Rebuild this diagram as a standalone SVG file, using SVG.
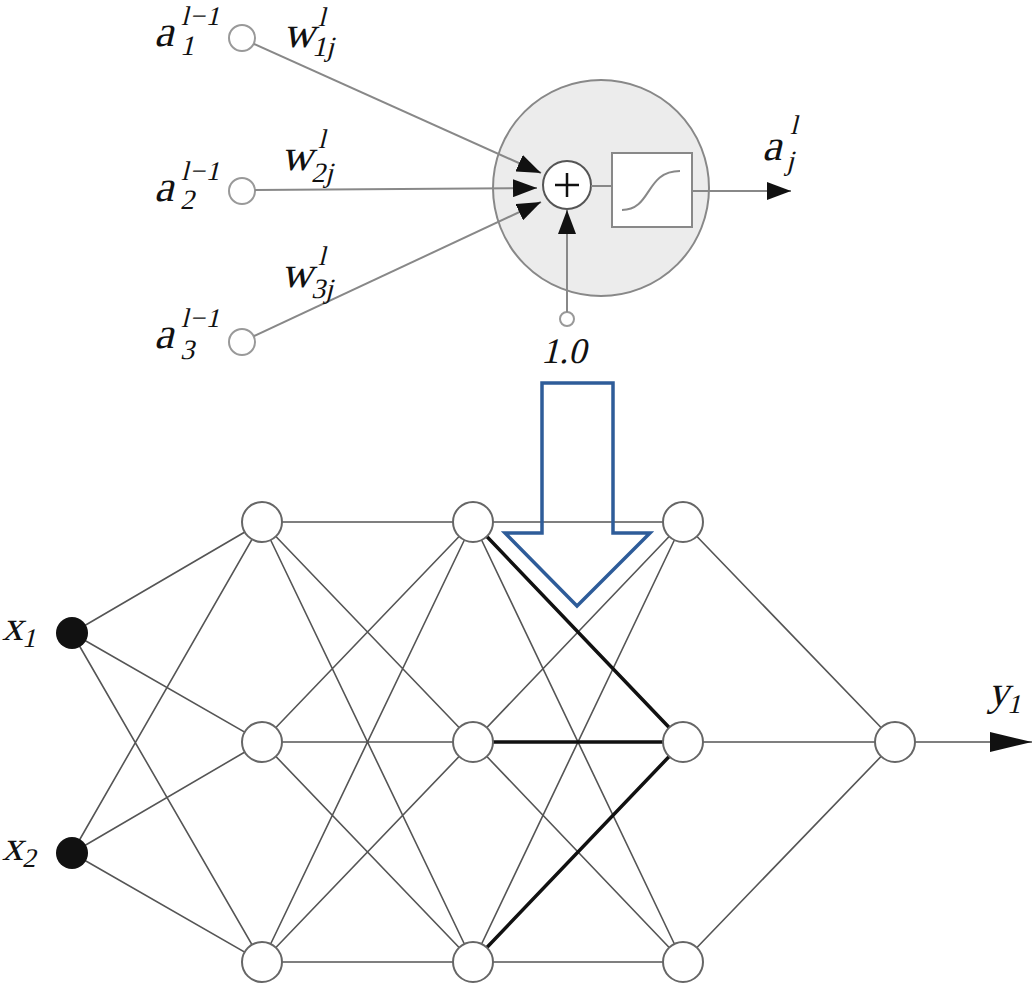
<svg xmlns="http://www.w3.org/2000/svg" width="1033" height="983" viewBox="0 0 1033 983">
<style>
text{font-family:"Liberation Serif","Times New Roman",serif;font-style:normal;fill:#111}
.big{font-size:44px}
.sm{font-size:28px}
.sup{font-size:27px}
.g{stroke:#888;stroke-width:2;fill:none}
.e{stroke:#555;stroke-width:1.6;fill:none}
.b{stroke:#111;stroke-width:3.5;fill:none}
.n{fill:#fff;stroke:#666;stroke-width:2}
</style>
<defs>
<marker id="ah" markerUnits="userSpaceOnUse" markerWidth="26" markerHeight="18" refX="24" refY="9" orient="auto"><path d="M0,0 L24,9 L0,18 Z" fill="#111"/></marker>
<marker id="ah2" markerUnits="userSpaceOnUse" markerWidth="44" markerHeight="24" refX="42" refY="12" orient="auto"><path d="M0,2 L42,12 L0,22 Z" fill="#111"/></marker>
</defs>
<rect width="1033" height="983" fill="#fff"/>

<g id="neuron">
<circle cx="601" cy="188" r="108" fill="#ececec" stroke="#888" stroke-width="2"/>
<circle cx="567" cy="185" r="24" fill="#fff" stroke="#555" stroke-width="2"/>
<path d="M555,185 H579 M567,173 V197" stroke="#111" stroke-width="2.5"/>
<rect x="612" y="153" width="80" height="74" fill="#fff" stroke="#888" stroke-width="2"/>
<path d="M622,210 C652,210 645,171 680,171" stroke="#888" stroke-width="2" fill="none"/>
</g>

<g id="inputs-top">
<circle cx="242" cy="38" r="13" fill="#fff" stroke="#999" stroke-width="2"/>
<circle cx="242" cy="191" r="13" fill="#fff" stroke="#999" stroke-width="2"/>
<circle cx="242" cy="342" r="13" fill="#fff" stroke="#999" stroke-width="2"/>
<circle cx="567" cy="319" r="7" fill="#fff" stroke="#999" stroke-width="2"/>
</g>

<g id="top-connectors">
<line class="g" x1="254" y1="44" x2="541" y2="173" marker-end="url(#ah)"/>
<line class="g" x1="255" y1="190" x2="537" y2="188" marker-end="url(#ah)"/>
<line class="g" x1="254" y1="336" x2="541" y2="202" marker-end="url(#ah)"/>
<line class="g" x1="567" y1="312" x2="567" y2="210" marker-end="url(#ah)"/>
<line class="g" x1="591" y1="186" x2="612" y2="186"/>
<line class="g" x1="692" y1="191" x2="791" y2="191" marker-end="url(#ah)"/>
</g>

<g id="top-labels">
<text class="big" transform="translate(154,46) skewX(-14)">a</text><text class="sup" transform="translate(181,25) skewX(-14)" letter-spacing="1">l−1</text><text class="sm" transform="translate(180,55) skewX(-14)">1</text>
<text class="big" transform="translate(154,201) skewX(-14)">a</text><text class="sup" transform="translate(181,180) skewX(-14)" letter-spacing="1">l−1</text><text class="sm" transform="translate(180,209) skewX(-14)">2</text>
<text class="big" transform="translate(154,348) skewX(-14)">a</text><text class="sup" transform="translate(181,327) skewX(-14)" letter-spacing="1">l−1</text><text class="sm" transform="translate(180,359) skewX(-14)">3</text>
<text class="big" transform="translate(283,47) skewX(-14)">w</text><text class="sup" transform="translate(318,26) skewX(-14)">l</text><text class="sm" transform="translate(312,56) skewX(-14)">1j</text>
<text class="big" transform="translate(281,170) skewX(-14)">w</text><text class="sup" transform="translate(318,148) skewX(-14)">l</text><text class="sm" transform="translate(311,182) skewX(-14)">2j</text>
<text class="big" transform="translate(281,287) skewX(-14)">w</text><text class="sup" transform="translate(318,265) skewX(-14)">l</text><text class="sm" transform="translate(311,298) skewX(-14)">3j</text>
<text class="big" transform="translate(762,160) skewX(-14)">a</text><text class="sup" transform="translate(790,134) skewX(-14)">l</text><text class="sm" transform="translate(786,170) skewX(-14)">j</text>
<text font-size="36" transform="translate(541,363) skewX(-14)">1.0</text>
</g>

<g id="connectors">
<path class="e" d="M72,633 L262,522 M72,633 L262,742 M72,633 L262,962 M72,853 L262,522 M72,853 L262,742 M72,853 L262,962"/>
<path class="e" d="M262,522 L473,522 M262,522 L473,742 M262,522 L473,962 M262,742 L473,522 M262,742 L473,742 M262,742 L473,962 M262,962 L473,522 M262,962 L473,742 M262,962 L473,962"/>
<path class="e" d="M473,522 L683,522 M473,522 L683,962 M473,742 L683,522 M473,742 L683,962 M473,962 L683,522 M473,962 L683,962"/>
<path class="b" d="M473,522 L683,742 M473,742 L683,742 M473,962 L683,742"/>
<path class="e" d="M683,522 L895,742 M683,742 L895,742 M683,962 L895,742"/>
<line class="e" x1="915" y1="742" x2="1032" y2="742" marker-end="url(#ah2)"/>
</g>

<g id="arrow-blue">
<path d="M542,383 H613 V533 H650 L577,606 L505,533 H542 Z" fill="none" stroke="#2e5c99" stroke-width="3.5" stroke-linejoin="miter"/>
</g>

<g id="nodes">
<circle cx="72" cy="633" r="16" fill="#111"/>
<circle cx="72" cy="853" r="16" fill="#111"/>
<circle class="n" cx="262" cy="522" r="20"/>
<circle class="n" cx="262" cy="742" r="20"/>
<circle class="n" cx="262" cy="962" r="20"/>
<circle class="n" cx="473" cy="522" r="20"/>
<circle class="n" cx="473" cy="742" r="20"/>
<circle class="n" cx="473" cy="962" r="20"/>
<circle class="n" cx="683" cy="522" r="20"/>
<circle class="n" cx="683" cy="742" r="20"/>
<circle class="n" cx="683" cy="962" r="20"/>
<circle class="n" cx="895" cy="742" r="20"/>
</g>

<g id="net-labels">
<text font-size="42" transform="translate(2,640) skewX(-14)">x</text><text font-size="27" transform="translate(22,647) skewX(-14)">1</text>
<text font-size="42" transform="translate(2,860) skewX(-14)">x</text><text font-size="27" transform="translate(22,867) skewX(-14)">2</text>
<text font-size="42" transform="translate(988,705) skewX(-14)">y</text><text font-size="27" transform="translate(1007,713) skewX(-14)">1</text>
</g>
</svg>
